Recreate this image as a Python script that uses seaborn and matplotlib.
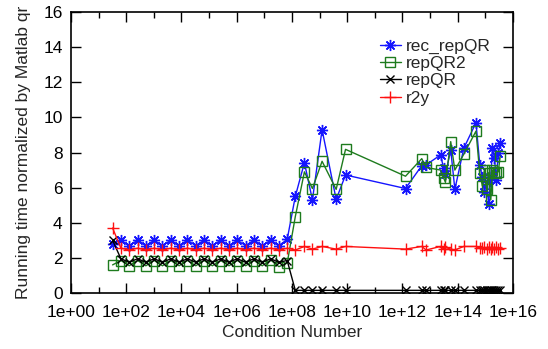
import matplotlib
matplotlib.use("Agg")
import matplotlib.pyplot as plt
import seaborn as sns
from matplotlib.ticker import FixedLocator, NullFormatter, FuncFormatter

# condition numbers: 2^5 .. 2^26, then measured values beyond 1e8
cond = [32, 64, 128, 256, 512, 1024, 2048, 4096, 8192, 16384, 32768,
        65536, 131072, 262144, 524288, 1048576, 2097152, 4194304,
        8388608, 16777216, 33554432, 67108864,
        1.32e8, 2.82e8, 5.5e8, 1.23e9, 3.98e9, 8.7e9,
        1.29e12, 5.0e12, 7.2e12, 2.4e13, 3.1e13, 3.6e13, 5.6e13, 7.9e13,
        1.66e14, 4.6e14, 6.3e14, 7.8e14, 9.3e14, 1.12e15, 1.32e15,
        1.58e15, 1.82e15, 2.14e15, 2.51e15, 2.95e15, 3.47e15]

rec_repQR = [2.8, 3.0, 2.7, 3.0, 2.7, 3.0, 2.7, 3.0, 2.7, 3.0, 2.7,
             3.0, 2.7, 3.0, 2.7, 3.0, 2.7, 3.0, 2.7, 3.0, 2.7, 3.05,
             5.5, 7.42, 5.3, 9.3, 5.33, 6.72,
             5.95, 7.25, 7.3, 7.86, 7.1, 6.75, 8.15, 5.9,
             8.24, 9.7, 7.29, 6.6, 5.75, 6.3, 5.05,
             6.6, 8.24, 7.7, 6.45, 7.95, 8.55]

repQR2 = [1.6, 1.85, 1.55, 1.85, 1.55, 1.85, 1.55, 1.85, 1.55, 1.85, 1.55,
          1.85, 1.55, 1.85, 1.55, 1.85, 1.55, 1.85, 1.55, 1.88, 1.5, 1.7,
          4.35, 6.9, 5.95, 7.5, 5.9, 8.18,
          6.65, 7.65, 7.15, 7.0, 6.55, 6.3, 8.62, 7.0,
          7.9, 9.22, 6.82, 6.1, 7.0, 5.9, 6.85,
          5.3, 7.0, 6.9, 6.85, 6.9, 7.8]

repQR = [3.0, 1.95, 1.75, 1.95, 1.75, 1.95, 1.75, 1.95, 1.75, 1.95, 1.75,
         1.95, 1.75, 1.95, 1.75, 1.95, 1.75, 1.95, 1.75, 1.95, 1.75, 1.85,
         0.15, 0.15, 0.15, 0.15, 0.15, 0.15,
         0.15, 0.15, 0.15, 0.15, 0.15, 0.15, 0.15, 0.15,
         0.15, 0.15, 0.15, 0.15, 0.15, 0.15, 0.15,
         0.15, 0.15, 0.15, 0.15, 0.15, 0.15]

r2y = [3.7, 2.55, 2.45, 2.55, 2.45, 2.55, 2.45, 2.55, 2.45, 2.55, 2.45,
       2.55, 2.45, 2.55, 2.45, 2.55, 2.45, 2.55, 2.45, 2.55, 2.45, 2.55,
       2.45, 2.65, 2.5, 2.65, 2.5, 2.65,
       2.5, 2.65, 2.45, 2.65, 2.5, 2.6, 2.5, 2.45,
       2.65, 2.65, 2.55, 2.55, 2.6, 2.5, 2.6,
       2.5, 2.6, 2.5, 2.6, 2.5, 2.55]

xtick_exp = [0, 2, 4, 6, 8, 10, 12, 14, 16]
yticks = [0, 2, 4, 6, 8, 10, 12, 14, 16]

sns.set_style("ticks")
plt.rcParams["font.family"] = ["Liberation Sans", "DejaVu Sans"]

fig = plt.figure(figsize=(5.48, 3.49), dpi=100)
ax = fig.add_axes([0.1296, 0.1605, 0.8064, 0.805])

series = [
    ("rec_repQR", rec_repQR, "#1515ff", dict(marker=(8, 2, 0), markersize=8, mew=1.0)),
    ("repQR2", repQR2, "#1e7b1e", dict(marker="s", markersize=6.5, mew=1.0, mfc="none")),
    ("repQR", repQR, "black", dict(marker="x", markersize=6, mew=1.0)),
    ("r2y", r2y, "#ff1010", dict(marker="+", markersize=8, mew=1.0)),
]
for name, vals, col, mk in series:
    sns.lineplot(x=cond, y=vals, ax=ax, color=col, lw=1.0, label=name,
                 estimator=None, sort=False, mec=col, **mk)

ax.set_xscale("log")
ax.set_xlim(1, 1e16)
ax.set_ylim(0, 16)
ax.xaxis.set_major_locator(FixedLocator([10.0 ** e for e in xtick_exp]))
ax.xaxis.set_minor_locator(FixedLocator([10.0 ** (e + 1) for e in xtick_exp[:-1]]))
ax.xaxis.set_major_formatter(FuncFormatter(lambda v, p: f"{v:.0e}"))
ax.xaxis.set_minor_formatter(NullFormatter())
ax.set_yticks(yticks)

ax.tick_params(which="both", direction="in", top=True, right=True,
               width=1.0, labelsize=12.5, colors="black")
ax.tick_params(axis="x", which="both", pad=9)
ax.tick_params(axis="y", which="both", pad=6)
ax.tick_params(which="major", length=7)
ax.tick_params(which="minor", length=4)
for s in ax.spines.values():
    s.set_linewidth(1.2)
    s.set_color("black")

ax.set_xlabel("Condition Number", fontsize=12.5, labelpad=3)
ax.set_ylabel("Running time normalized by Matlab qr", fontsize=12.5, labelpad=9)

ax.legend(loc="upper left", bbox_to_anchor=(0.699, 0.905), frameon=False,
          fontsize=12.5, handlelength=1.2, handletextpad=0.3,
          labelspacing=0.12, borderpad=0, borderaxespad=0)

fig.savefig("out.png", dpi=100)
